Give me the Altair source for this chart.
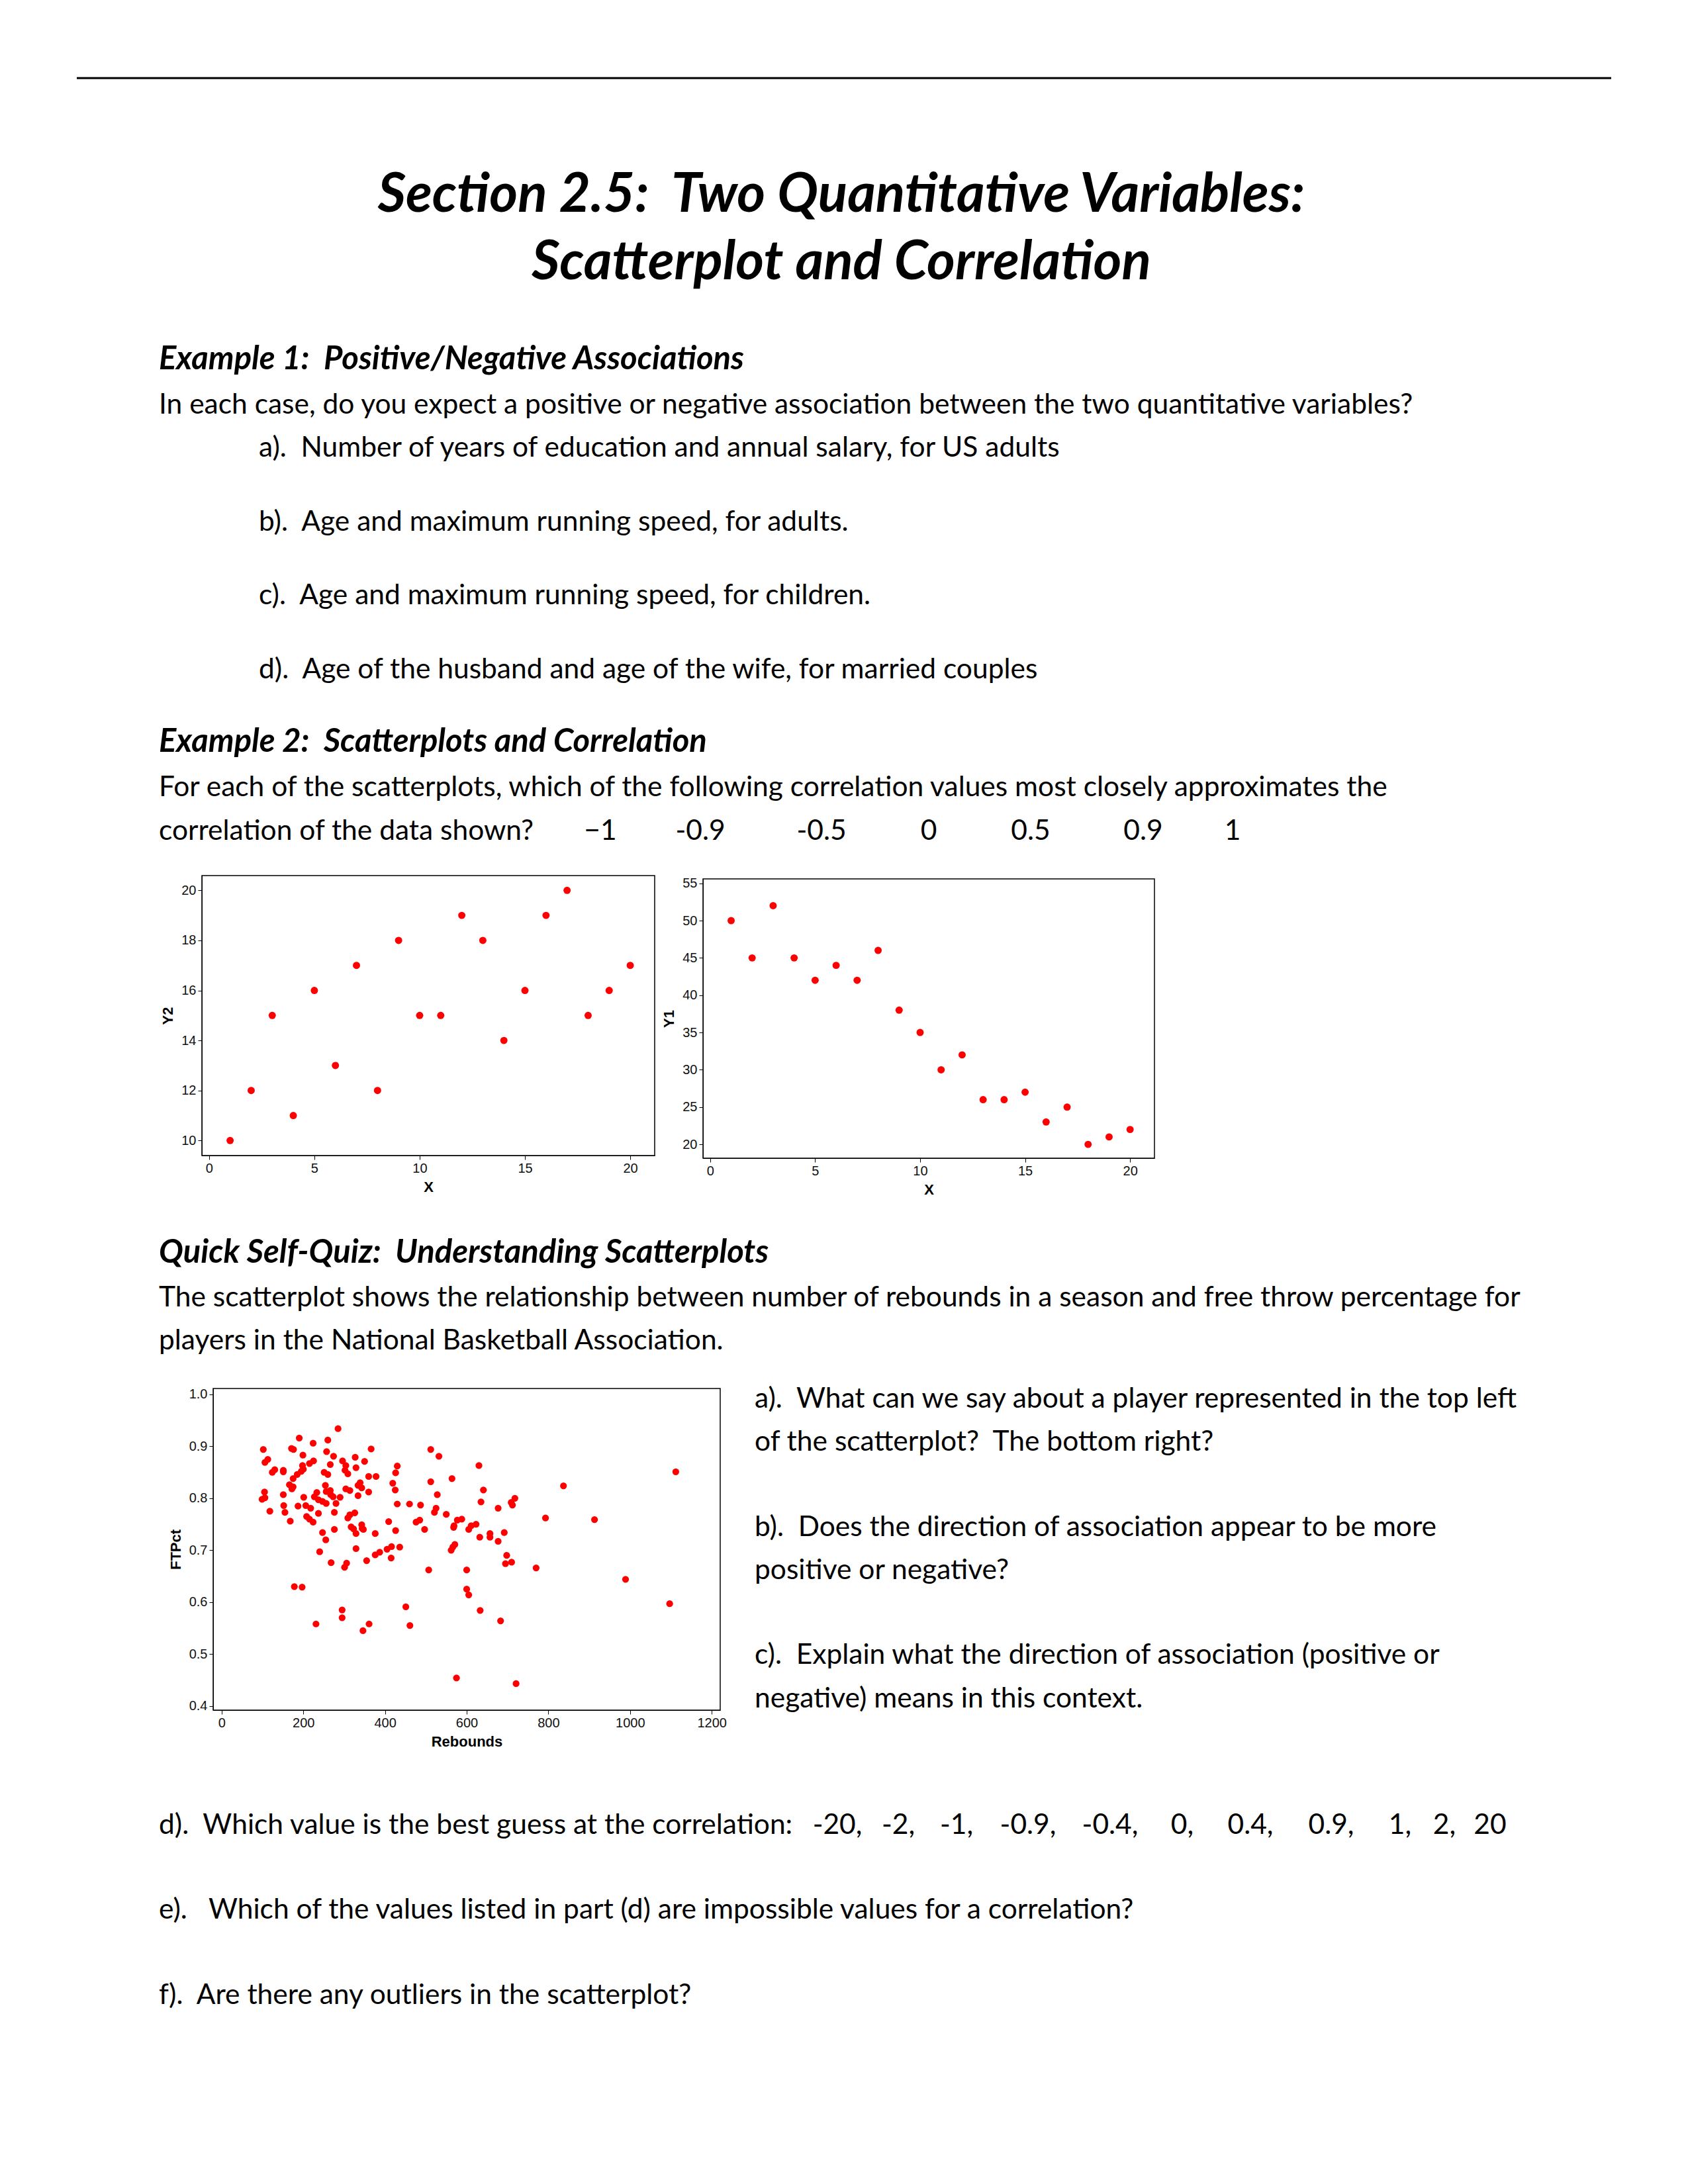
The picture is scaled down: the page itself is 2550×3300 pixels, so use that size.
import altair as alt
import pandas as pd

# ---------------- data ----------------
x_vals = list(range(1, 21))
y2_vals = [10, 12, 15, 11, 16, 13, 17, 12, 18, 15, 15, 19, 18, 14, 16, 19, 20, 15, 16, 17]
y1_vals = [50, 45, 52, 45, 42, 44, 42, 46, 38, 35, 30, 32, 26, 26, 27, 23, 25, 20, 21, 22]

rebounds = [285, 190, 224, 260, 102, 171, 176, 366, 257, 512, 532, 199, 274, 327, 113, 106, 225, 215, 296, 350,
            198, 266, 304, 430, 630, 329, 200, 130, 151, 302, 195, 124, 151, 251, 260, 426, 1112, 185, 309, 360,
            378, 564, 175, 166, 339, 334, 419, 512, 254, 175, 837, 343, 425, 641, 172, 304, 314, 360, 105, 256,
            266, 233, 151, 528, 267, 273, 290, 334, 227, 99, 106, 201, 718, 709, 635, 237, 247, 256, 280, 430,
            460, 487, 712, 152, 187, 206, 677, 218, 118, 155, 276, 525, 521, 326, 237, 314, 309, 550, 208, 793,
            215, 588, 577, 913, 485, 168, 224, 409, 476, 623, 343, 611, 317, 569, 568, 344, 323, 605, 497, 276,
            426, 347, 657, 692, 247, 329, 376, 632, 657, 255, 677, 571, 566, 562, 416, 436, 405, 329, 240, 387,
            376, 698, 415, 355, 306, 268, 710, 695, 301, 770, 507, 600, 989, 178, 197, 600, 605, 1097, 451, 295,
            633, 295, 683, 231, 361, 461, 346, 575, 721]
ftpct = [0.934, 0.916, 0.906, 0.912, 0.894, 0.896, 0.894, 0.895, 0.890, 0.894, 0.881, 0.883, 0.881, 0.879, 0.875,
         0.869, 0.872, 0.867, 0.872, 0.871, 0.863, 0.865, 0.863, 0.862, 0.863, 0.859, 0.856, 0.855, 0.854, 0.854,
         0.852, 0.850, 0.851, 0.850, 0.846, 0.849, 0.851, 0.846, 0.847, 0.842, 0.842, 0.838, 0.838, 0.826, 0.830,
         0.825, 0.829, 0.832, 0.825, 0.822, 0.824, 0.820, 0.816, 0.816, 0.818, 0.818, 0.815, 0.812, 0.812, 0.813,
         0.815, 0.811, 0.807, 0.807, 0.807, 0.803, 0.802, 0.805, 0.803, 0.798, 0.801, 0.802, 0.800, 0.792, 0.793,
         0.797, 0.794, 0.790, 0.790, 0.789, 0.789, 0.787, 0.787, 0.786, 0.785, 0.786, 0.781, 0.781, 0.775, 0.773,
         0.773, 0.781, 0.773, 0.772, 0.771, 0.768, 0.762, 0.769, 0.765, 0.762, 0.760, 0.760, 0.758, 0.759, 0.758,
         0.756, 0.754, 0.755, 0.754, 0.750, 0.749, 0.747, 0.745, 0.747, 0.744, 0.742, 0.741, 0.740, 0.740, 0.740,
         0.738, 0.740, 0.732, 0.734, 0.734, 0.732, 0.732, 0.725, 0.725, 0.720, 0.717, 0.711, 0.706, 0.700, 0.707,
         0.706, 0.702, 0.703, 0.697, 0.696, 0.691, 0.690, 0.685, 0.680, 0.675, 0.676, 0.677, 0.674, 0.667, 0.666,
         0.662, 0.662, 0.644, 0.630, 0.629, 0.625, 0.614, 0.597, 0.591, 0.585, 0.584, 0.570, 0.564, 0.558, 0.558,
         0.555, 0.545, 0.454, 0.443]

xy_ticks = [0, 5, 10, 15, 20]
y2_ticks = [10, 12, 14, 16, 18, 20]
y1_ticks = [20, 25, 30, 35, 40, 45, 50, 55]
reb_ticks = [0, 200, 400, 600, 800, 1000, 1200]
ft_ticks = [0.4, 0.5, 0.6, 0.7, 0.8, 0.9, 1.0]

title_lines = ["Section 2.5:\u00a0 Two Quantitative Variables:", "Scatterplot and Correlation"]
ex1_heading = "Example 1:\u00a0 Positive/Negative Associations"
ex1_prompt = "In each case, do you expect a positive or negative association between the two quantitative variables?"
ex1_items = ["a).\u00a0 Number of years of education and annual salary, for US adults",
             "b).\u00a0 Age and maximum running speed, for adults.",
             "c).\u00a0 Age and maximum running speed, for children.",
             "d).\u00a0 Age of the husband and age of the wife, for married couples"]
ex2_heading = "Example 2:\u00a0 Scatterplots and Correlation"
ex2_lines = ["For each of the scatterplots, which of the following correlation values most closely approximates the",
             "correlation of the data shown?"]
corr_choices = ["\u22121", "-0.9", "-0.5", "0", "0.5", "0.9", "1"]
quiz_heading = "Quick Self-Quiz:\u00a0 Understanding Scatterplots"
quiz_lines = ["The scatterplot shows the relationship between number of rebounds in a season and free throw percentage for",
              "players in the National Basketball Association."]
quiz_side = ["a).\u00a0 What can we say about a player represented in the top left",
             "of the scatterplot?\u00a0 The bottom right?",
             "b).\u00a0 Does the direction of association appear to be more",
             "positive or negative?",
             "c).\u00a0 Explain what the direction of association (positive or",
             "negative) means in this context."]
quiz_d = "d).\u00a0 Which value is the best guess at the correlation:"
d_choices = ["-20,", "-2,", "-1,", "-0.9,", "-0.4,", "0,", "0.4,", "0.9,", "1,", "2,", "20"]
quiz_e = "e).\u00a0\u00a0 Which of the values listed in part (d) are impossible values for a correlation?"
quiz_f = "f).\u00a0 Are there any outliers in the scatterplot?"

# ---------------- layout (page pixels; chart origin is page (8, 8)) ----------------
BODY_FONT = "Lato"
TITLE_SIZE = 82
HEAD_SIZE = 49
BODY_SIZE = 42.5
O = 8
W, H = 2534, 3284
LEFT_X = 240
INDENT_X = 391
SIDE_X = 1140


def txt(s, x, y, size=BODY_SIZE, weight="normal", style="normal", align="left"):
    return alt.Chart(pd.DataFrame({"t": [s]})).mark_text(
        align=align, baseline="alphabetic", font=BODY_FONT, fontSize=size,
        fontWeight=weight, fontStyle=style, color="black"
    ).encode(text="t:N", x=alt.value(x - O), y=alt.value(y - O))


def ax(title, values, orient, offset, fmt=None):
    kw = dict(title=title, values=values, orient=orient, offset=offset, grid=False,
              tickSize=6, tickColor="black", tickWidth=1, domainColor="black", domainWidth=1,
              labelFont="Liberation Sans", labelFontSize=20, labelColor="#111111", labelPadding=3,
              titleFont="Liberation Sans", titleFontSize=22, titleFontWeight="bold",
              titleColor="black", titlePadding=8, labelFlush=False, labelOverlap=False)
    if fmt:
        kw["format"] = fmt
    return alt.Axis(**kw)


def scatter(df, xf, yf, xdom, ydom, box, xticks, yticks, xtitle, ytitle, size, xfmt=None, yfmt=None):
    left, right, top, bottom = [v - O for v in box]
    xs = alt.Scale(domain=xdom, range=[left, right], nice=False, zero=False)
    ys = alt.Scale(domain=ydom, range=[bottom, top], nice=False, zero=False)
    xaxis = ax(xtitle, xticks, "bottom", -(H - bottom), xfmt)
    yaxis = ax(ytitle, yticks, "left", -left, yfmt)
    frame_df = pd.DataFrame({"a": [xdom[0]], "b": [xdom[1]], "c": [ydom[0]], "d": [ydom[1]]})
    frame = alt.Chart(frame_df).mark_rect(filled=False, stroke="black", strokeWidth=1.5).encode(
        x=alt.X("a:Q", scale=xs, axis=xaxis), x2="b:Q",
        y=alt.Y("c:Q", scale=ys, axis=yaxis), y2="d:Q")
    pts = alt.Chart(df).mark_circle(color="#FF0000", size=size, opacity=1).encode(
        x=alt.X(f"{xf}:Q", scale=xs, axis=xaxis),
        y=alt.Y(f"{yf}:Q", scale=ys, axis=yaxis))
    return alt.layer(frame, pts)


layers = []
# header rule and title
layers.append(alt.Chart(pd.DataFrame({"t": [0]})).mark_rule(color="black", strokeWidth=3).encode(
    x=alt.value(116 - O), x2=alt.value(2434 - O), y=alt.value(118 - O)))
layers.append(txt(title_lines[0], 1271, 320, TITLE_SIZE, "bold", "italic", "center"))
layers.append(txt(title_lines[1], 1271, 422, TITLE_SIZE, "bold", "italic", "center"))

# Example 1
layers.append(txt(ex1_heading, LEFT_X, 558, HEAD_SIZE, "bold", "italic"))
layers.append(txt(ex1_prompt, LEFT_X, 625))
for s, yy in zip(ex1_items, [690, 802, 913, 1025]):
    layers.append(txt(s, INDENT_X, yy))

# Example 2
layers.append(txt(ex2_heading, LEFT_X, 1136, HEAD_SIZE, "bold", "italic"))
layers.append(txt(ex2_lines[0], LEFT_X, 1203))
layers.append(txt(ex2_lines[1], LEFT_X, 1269))
for s, xx in zip(corr_choices, [907, 1058, 1241, 1403, 1557, 1727, 1862]):
    layers.append(txt(s, xx, 1269, align="center"))

# scatterplots of example 2
df1 = pd.DataFrame({"X": x_vals, "Y2": y2_vals})
df2 = pd.DataFrame({"X": x_vals, "Y1": y1_vals})
layers.append(scatter(df1, "X", "Y2", [-0.34, 21.16], [9.40, 20.59], (305, 989, 1323, 1746),
                      xy_ticks, y2_ticks, "X", "Y2", 120))
layers.append(scatter(df2, "X", "Y1", [-0.34, 21.16], [18.15, 55.59], (1062, 1744, 1328, 1750),
                      xy_ticks, y1_ticks, "X", "Y1", 120))

# Quick self-quiz
layers.append(txt(quiz_heading, LEFT_X, 1908, HEAD_SIZE, "bold", "italic"))
layers.append(txt(quiz_lines[0], LEFT_X, 1974))
layers.append(txt(quiz_lines[1], LEFT_X, 2039))

df3 = pd.DataFrame({"Rebounds": rebounds, "FTPct": ftpct})
layers.append(scatter(df3, "Rebounds", "FTPct", [-20.8, 1220.8], [0.392, 1.0114], (322, 1088, 2098, 2584),
                      reb_ticks, ft_ticks, "Rebounds", "FTPct", 105, "d", ".1f"))

for s, yy in zip(quiz_side, [2127, 2192, 2321, 2386, 2514, 2580]):
    layers.append(txt(s, SIDE_X, yy))

layers.append(txt(quiz_d, LEFT_X, 2771))
for s, xx in zip(d_choices, [1265, 1357, 1445, 1553, 1677, 1786, 1889, 2011, 2115, 2182, 2251]):
    layers.append(txt(s, xx, 2771, align="center"))
layers.append(txt(quiz_e, LEFT_X, 2899))
layers.append(txt(quiz_f, LEFT_X, 3028))

chart = alt.layer(*layers).resolve_scale(x="independent", y="independent").resolve_axis(
    x="independent", y="independent"
).properties(width=W, height=H, padding=0).configure_view(strokeWidth=0)

chart.save("out.html", embed_options={"renderer": "svg", "actions": False})
